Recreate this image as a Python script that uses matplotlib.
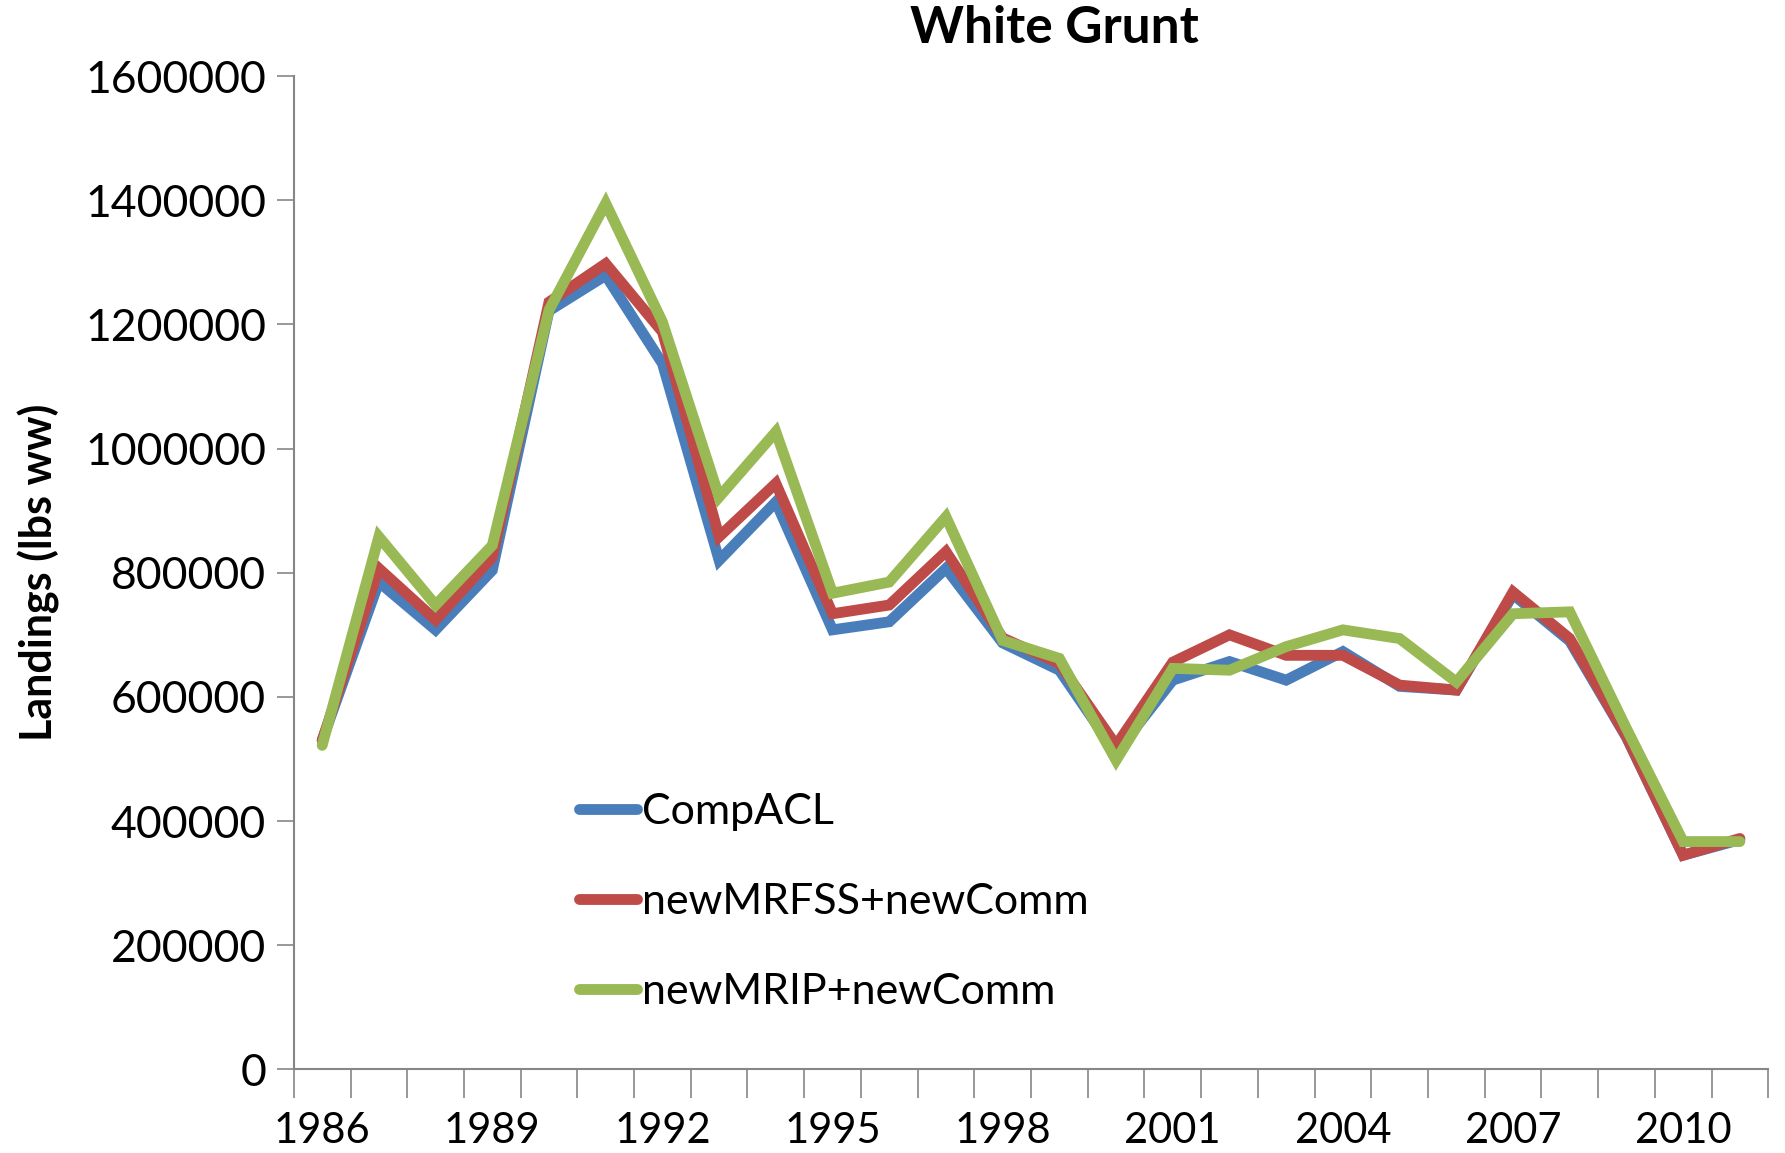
import matplotlib
matplotlib.use("Agg")
import matplotlib.pyplot as plt
import numpy as np

years = list(range(1986, 2012))
comp_acl = [530000, 785000, 708000, 804000, 1222000, 1279000, 1137000, 820000, 914000, 708000,
            721000, 807000, 687000, 643000, 510000, 627000, 657000, 627000, 673000, 617000,
            611000, 765000, 690000, 535000, 345000, 370000]
new_mrfss = [530000, 807000, 724000, 825000, 1236000, 1298000, 1188000, 858000, 944000, 734000,
             748000, 834000, 695000, 654000, 522000, 656000, 700000, 667000, 667000, 619000,
             611000, 769000, 694000, 536000, 345000, 372000]
new_mrip = [522000, 858000, 748000, 844000, 1223000, 1395000, 1204000, 922000, 1027000, 767000,
            785000, 890000, 691000, 662000, 498000, 646000, 643000, 681000, 708000, 694000,
            624000, 734000, 737000, 549000, 367000, 367000]
series_names = ["CompACL", "newMRFSS+newComm", "newMRIP+newComm"]
colors = ["#4A7EBB", "#BE4B48", "#98B954"]
label_years = [1986, 1989, 1992, 1995, 1998, 2001, 2004, 2007, 2010]
y_ticks = [0, 200000, 400000, 600000, 800000, 1000000, 1200000, 1400000, 1600000]

font = "Lato"
fig = plt.figure(figsize=(17.85, 11.53), dpi=100)
ax = fig.add_axes([0.1646, 0.0725, 0.826, 0.8615])

x = np.arange(len(years))
for vals, name, c in zip([comp_acl, new_mrfss, new_mrip], series_names, colors):
    ax.plot(x, vals, color=c, lw=7.8, label=name, solid_joinstyle="miter", solid_capstyle="round")

ax.set_xlim(-0.5, len(years) - 0.5)
ax.set_ylim(0, 1600000)
ax.set_yticks(y_ticks)
ax.set_yticklabels([str(v) for v in y_ticks], fontfamily=font, fontsize=32)
ax.set_xticks(np.arange(-0.5, len(years), 1.0))
ax.set_xticklabels([])
ax.tick_params(axis="x", which="major", direction="out", length=21, width=1.2, color="#868686")
ax.set_xticks([years.index(y) for y in label_years], minor=True)
ax.set_xticklabels([str(y) for y in label_years], minor=True, fontfamily=font, fontsize=30)
ax.tick_params(axis="x", which="minor", length=0, pad=31)
ax.tick_params(axis="y", direction="out", length=12, width=1.2, color="#868686", pad=8)

for s in ["top", "right"]:
    ax.spines[s].set_visible(False)
for s in ["left", "bottom"]:
    ax.spines[s].set_color("#868686")
    ax.spines[s].set_linewidth(1.5)

ax.set_ylabel("Landings (lbs ww)", fontfamily=font, fontsize=31, fontweight="bold", labelpad=18)
fig.text(926 / 1568, 1 - 25 / 1013, "White Grunt", fontfamily=font, fontsize=37,
         fontweight="bold", ha="center", va="center")

leg = ax.legend(loc="lower left", bbox_to_anchor=(0.167, 0.02), frameon=False,
                prop={"family": font, "size": 31}, handlelength=1.35, handletextpad=0.12,
                labelspacing=1.2)

fig.savefig("out.png", dpi=100)
